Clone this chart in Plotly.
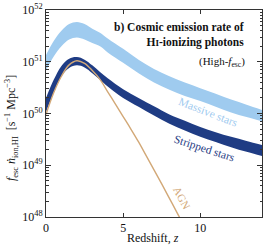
import plotly.graph_objects as go

# Redshift grid
z_band = [0, 0.5, 1.0, 1.5, 2.0, 2.5, 3.0, 3.5, 4.0, 5.0, 6.0, 7.0, 8.0, 9.0, 10.0, 11.0, 12.0, 13.0, 14.0]

# log10 emission rates
massive_hi = [51.13, 51.40, 51.60, 51.73, 51.77, 51.73, 51.64, 51.56, 51.45, 51.25, 51.04, 50.86, 50.72, 50.60, 50.49, 50.38, 50.27, 50.17, 50.07]
massive_lo = [50.83, 51.10, 51.30, 51.43, 51.47, 51.43, 51.36, 51.30, 51.18, 50.98, 50.78, 50.60, 50.46, 50.34, 50.24, 50.13, 50.02, 49.93, 49.85]
stripped_hi = [50.30, 50.65, 50.92, 51.06, 51.09, 51.04, 50.93, 50.80, 50.68, 50.47, 50.30, 50.14, 49.98, 49.86, 49.74, 49.64, 49.55, 49.47, 49.39]
stripped_lo = [50.03, 50.40, 50.72, 50.88, 50.93, 50.89, 50.78, 50.65, 50.52, 50.30, 50.13, 49.96, 49.80, 49.67, 49.55, 49.45, 49.35, 49.26, 49.18]

z_agn = [0, 0.5, 1.0, 1.5, 2.0, 2.5, 3.0, 3.5, 4.0, 4.5, 5.0, 5.5, 6.0, 6.5, 7.0, 7.5, 8.0, 8.5, 9.0]
agn = [49.98, 50.40, 50.72, 50.94, 51.02, 50.97, 50.83, 50.66, 50.42, 50.18, 49.94, 49.70, 49.45, 49.18, 48.91, 48.64, 48.36, 48.08, 47.80]

y_tickvals = [1e48, 1e49, 1e50, 1e51, 1e52]
y_ticktext = ["10<sup>48</sup>", "10<sup>49</sup>", "10<sup>50</sup>", "10<sup>51</sup>", "10<sup>52</sup>"]
x_tickvals = [0, 5, 10]

LIGHT = "#9fcbef"
DARK = "#1f3c84"
TAN = "#d2a877"
FONT = "Liberation Serif"

def p(v):
    return [10 ** x for x in v]

fig = go.Figure()
fig.add_trace(go.Scatter(x=z_band, y=p(massive_lo), mode="lines", line=dict(width=0, color=LIGHT, shape="spline"), showlegend=False, hoverinfo="skip"))
fig.add_trace(go.Scatter(x=z_band, y=p(massive_hi), mode="lines", line=dict(width=0, color=LIGHT, shape="spline"), fill="tonexty", fillcolor=LIGHT, showlegend=False, hoverinfo="skip"))
fig.add_trace(go.Scatter(x=z_band, y=p(stripped_lo), mode="lines", line=dict(width=0, color=DARK, shape="spline"), showlegend=False, hoverinfo="skip"))
fig.add_trace(go.Scatter(x=z_band, y=p(stripped_hi), mode="lines", line=dict(width=0, color=DARK, shape="spline"), fill="tonexty", fillcolor=DARK, showlegend=False, hoverinfo="skip"))
fig.add_trace(go.Scatter(x=z_agn, y=p(agn), mode="lines", line=dict(width=1.4, color=TAN, shape="spline"), showlegend=False, hoverinfo="skip"))

axis_common = dict(showline=True, linecolor="#333", linewidth=1, mirror="allticks", ticks="inside",
                   tickcolor="#333", showgrid=False, zeroline=False, automargin=False,
                   tickfont=dict(family=FONT, size=12, color="#111"))

fig.update_layout(
    width=266, height=250,
    margin=dict(l=46, r=4, t=10, b=33),
    paper_bgcolor="white", plot_bgcolor="white",
    font=dict(family=FONT, size=12, color="#111"),
    xaxis=dict(range=[0, 14], tickvals=x_tickvals, ticklen=4, ticklabelstandoff=0, **axis_common),
    yaxis=dict(type="log", range=[48, 52], tickvals=y_tickvals, ticktext=y_ticktext, ticklen=5, **axis_common,
               minor=dict(ticks="inside", ticklen=2.5, tickcolor="#333", dtick="D1", showgrid=False)),
)

def px_x(px):
    return (px - 46) / 216.0

def px_y(py):
    return (217 - py) / 207.0

fig.add_annotation(x=px_x(153), y=px_y(238), xref="paper", yref="paper", showarrow=False,
                   text="Redshift, <i>z</i>", font=dict(family=FONT, size=12, color="#111"),
                   xanchor="center", yanchor="middle")
fig.add_annotation(x=px_x(11), y=px_y(128), xref="paper", yref="paper", showarrow=False, textangle=-90,
                   text="<i>f</i><sub>esc</sub> <i>ṅ</i><sub>ion,HI</sub>  [s<sup>−1</sup> Mpc<sup>−3</sup>]",
                   font=dict(family=FONT, size=12, color="#111"), xanchor="center", yanchor="middle")
fig.add_annotation(x=px_x(246), y=px_y(19), xref="paper", yref="paper", showarrow=False, align="right",
                   xanchor="right", yanchor="top",
                   text="<b>b) Cosmic emission rate of<br>H<span style='font-size:9px'>I</span>-ionizing photons</b>",
                   font=dict(family=FONT, size=11.5, color="#111"))
fig.add_annotation(x=px_x(247), y=px_y(62), xref="paper", yref="paper", showarrow=False,
                   xanchor="right", yanchor="middle",
                   text="(High-<i>f</i><sub>esc</sub>)", font=dict(family=FONT, size=11, color="#111"))
fig.add_annotation(x=px_x(208), y=px_y(112), xref="paper", yref="paper", showarrow=False, textangle=21,
                   xanchor="center", yanchor="middle",
                   text="Massive stars", font=dict(family=FONT, size=11.5, color=LIGHT))
fig.add_annotation(x=px_x(204), y=px_y(148), xref="paper", yref="paper", showarrow=False, textangle=18,
                   xanchor="center", yanchor="middle",
                   text="Stripped stars", font=dict(family=FONT, size=11.5, color=DARK))
fig.add_annotation(x=px_x(182), y=px_y(198), xref="paper", yref="paper", showarrow=False, textangle=62,
                   xanchor="center", yanchor="middle",
                   text="AGN", font=dict(family=FONT, size=11, color=TAN))

fig.write_html("out.html", config={"displayModeBar": False},
               post_script="document.body.style.margin='0px';")
